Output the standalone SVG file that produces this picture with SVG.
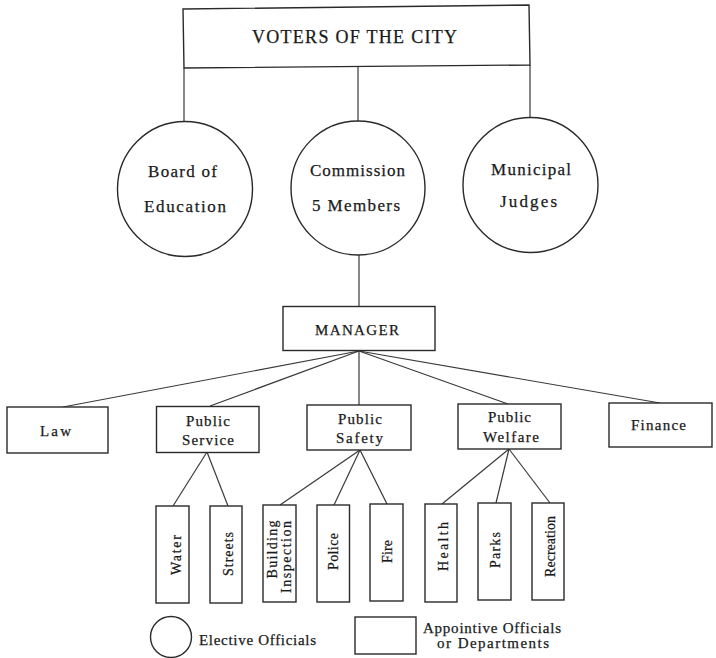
<svg xmlns="http://www.w3.org/2000/svg" width="716" height="658" viewBox="0 0 716 658">
<style>
  .box { fill: #fff; stroke: #2a2a2a; stroke-width: 1.4; }
  .ln { fill: none; stroke: #3a3a3a; stroke-width: 1.2; }
  .txt text { font-family: "Liberation Serif", "DejaVu Serif", serif; fill: #1a1a1a; stroke: #1a1a1a; stroke-width: 0.25; }
  .t18 { font-size: 18px; }
  .t17 { font-size: 17px; }
  .t15 { font-size: 15px; }
  .t14 { font-size: 14px; }
  .m { text-anchor: middle; }
</style>
<rect width="716" height="658" fill="#fff"/>
<g id="connectors">
  <line class="ln" x1="184" y1="68" x2="184" y2="122"/>
  <line class="ln" x1="358" y1="66" x2="358" y2="121"/>
  <line class="ln" x1="530" y1="65" x2="530" y2="118"/>
  <line class="ln" x1="359" y1="255" x2="359" y2="306"/>
  <line class="ln" x1="359" y1="351" x2="63" y2="407"/>
  <line class="ln" x1="359" y1="351" x2="210" y2="406"/>
  <line class="ln" x1="359" y1="351" x2="359" y2="405"/>
  <line class="ln" x1="359" y1="351" x2="508" y2="404"/>
  <line class="ln" x1="359" y1="351" x2="660" y2="403"/>
  <line class="ln" x1="207" y1="452" x2="173" y2="506"/>
  <line class="ln" x1="207" y1="452" x2="228" y2="506"/>
  <line class="ln" x1="360" y1="450" x2="280" y2="505"/>
  <line class="ln" x1="360" y1="450" x2="334" y2="505"/>
  <line class="ln" x1="360" y1="450" x2="387" y2="504"/>
  <line class="ln" x1="509" y1="449" x2="442" y2="504"/>
  <line class="ln" x1="509" y1="449" x2="496" y2="503"/>
  <line class="ln" x1="509" y1="449" x2="550" y2="503"/>
</g>
<g class="txt" font-family="Liberation Serif, DejaVu Serif, serif">
<g id="voters">
  <path class="box" d="M183,9 L529,5 L530,65 L184,68 Z"/>
  <text class="t18 m" x="354.5" y="43" textLength="205" lengthAdjust="spacing">VOTERS OF THE CITY</text>
</g>
<g id="board">
  <circle class="box" cx="185" cy="189" r="67.5"/>
  <text class="t17 m" x="182.5" y="177" textLength="69" lengthAdjust="spacing">Board of</text>
  <text class="t17 m" x="185" y="212" textLength="82" lengthAdjust="spacing">Education</text>
</g>
<g id="commission">
  <circle class="box" cx="358" cy="188" r="67"/>
  <text class="t17 m" x="357.5" y="176" textLength="95" lengthAdjust="spacing">Commission</text>
  <text class="t17 m" x="356" y="211" textLength="88" lengthAdjust="spacing">5 Members</text>
</g>
<g id="judges">
  <circle class="box" cx="530.5" cy="185" r="67.5"/>
  <text class="t17 m" x="531" y="175" textLength="80" lengthAdjust="spacing">Municipal</text>
  <text class="t17 m" x="528.5" y="207" textLength="57" lengthAdjust="spacing">Judges</text>
</g>
<g id="manager">
  <rect class="box" x="283" y="306.5" width="152" height="44"/>
  <text class="t15 m" x="357" y="335" textLength="84" lengthAdjust="spacing">MANAGER</text>
</g>
<g id="law">
  <rect class="box" x="7" y="407" width="101" height="46"/>
  <text class="t15 m" x="55.5" y="436" textLength="31" lengthAdjust="spacing">Law</text>
</g>
<g id="public-service">
  <rect class="box" x="156.5" y="406.5" width="102.5" height="46"/>
  <text class="t15 m" x="208" y="426" textLength="44" lengthAdjust="spacing">Public</text>
  <text class="t15 m" x="208" y="445" textLength="52" lengthAdjust="spacing">Service</text>
</g>
<g id="public-safety">
  <rect class="box" x="307" y="405" width="104" height="45"/>
  <text class="t15 m" x="360" y="424" textLength="44" lengthAdjust="spacing">Public</text>
  <text class="t15 m" x="359.5" y="443" textLength="47" lengthAdjust="spacing">Safety</text>
</g>
<g id="public-welfare">
  <rect class="box" x="458" y="404" width="103" height="45"/>
  <text class="t15 m" x="509.5" y="422" textLength="43" lengthAdjust="spacing">Public</text>
  <text class="t15 m" x="511" y="442" textLength="56" lengthAdjust="spacing">Welfare</text>
</g>
<g id="finance">
  <rect class="box" x="609" y="403" width="103" height="44"/>
  <text class="t15 m" x="658.5" y="430" textLength="55" lengthAdjust="spacing">Finance</text>
</g>
<g id="water">
  <rect class="box" x="156" y="506" width="33" height="97"/>
  <text class="t14 m" transform="translate(181,555) rotate(-90)" textLength="40" lengthAdjust="spacing">Water</text>
</g>
<g id="streets">
  <rect class="box" x="210" y="506" width="32" height="97"/>
  <text class="t14 m" transform="translate(233,554) rotate(-90)" textLength="44" lengthAdjust="spacing">Streets</text>
</g>
<g id="building-inspection">
  <rect class="box" x="263" y="505" width="33" height="97"/>
  <text class="t14 m" transform="translate(276.5,549.5) rotate(-90)" textLength="58" lengthAdjust="spacing">Building</text>
  <text class="t14 m" transform="translate(290.5,557) rotate(-90)" textLength="72" lengthAdjust="spacing">Inspection</text>
</g>
<g id="police">
  <rect class="box" x="317" y="505" width="32.5" height="97"/>
  <text class="t14 m" transform="translate(338,551.5) rotate(-90)" textLength="37" lengthAdjust="spacing">Police</text>
</g>
<g id="fire">
  <rect class="box" x="370" y="504" width="33" height="97"/>
  <text class="t14 m" transform="translate(392,551.5) rotate(-90)" textLength="23" lengthAdjust="spacing">Fire</text>
</g>
<g id="health">
  <rect class="box" x="425" y="504" width="32" height="98"/>
  <text class="t14 m" transform="translate(448,546.5) rotate(-90)" textLength="49" lengthAdjust="spacing">Health</text>
</g>
<g id="parks">
  <rect class="box" x="478" y="503" width="33" height="97"/>
  <text class="t14 m" transform="translate(500,550) rotate(-90)" textLength="36" lengthAdjust="spacing">Parks</text>
</g>
<g id="recreation">
  <rect class="box" x="532" y="503" width="32" height="97"/>
  <text class="t14 m" transform="translate(555,546.5) rotate(-90)" textLength="61" lengthAdjust="spacing">Recreation</text>
</g>
<g id="legend-elective">
  <circle class="box" cx="171" cy="637" r="20.5"/>
  <text class="t15 m" x="257.5" y="645" textLength="117" lengthAdjust="spacing">Elective Officials</text>
</g>
<g id="legend-appointive">
  <rect class="box" x="355" y="617" width="61" height="37"/>
  <text class="t15 m" x="492" y="633" textLength="138" lengthAdjust="spacing">Appointive Officials</text>
  <text class="t15 m" x="493" y="648" textLength="112" lengthAdjust="spacing">or Departments</text>
</g>
</g>
</svg>
